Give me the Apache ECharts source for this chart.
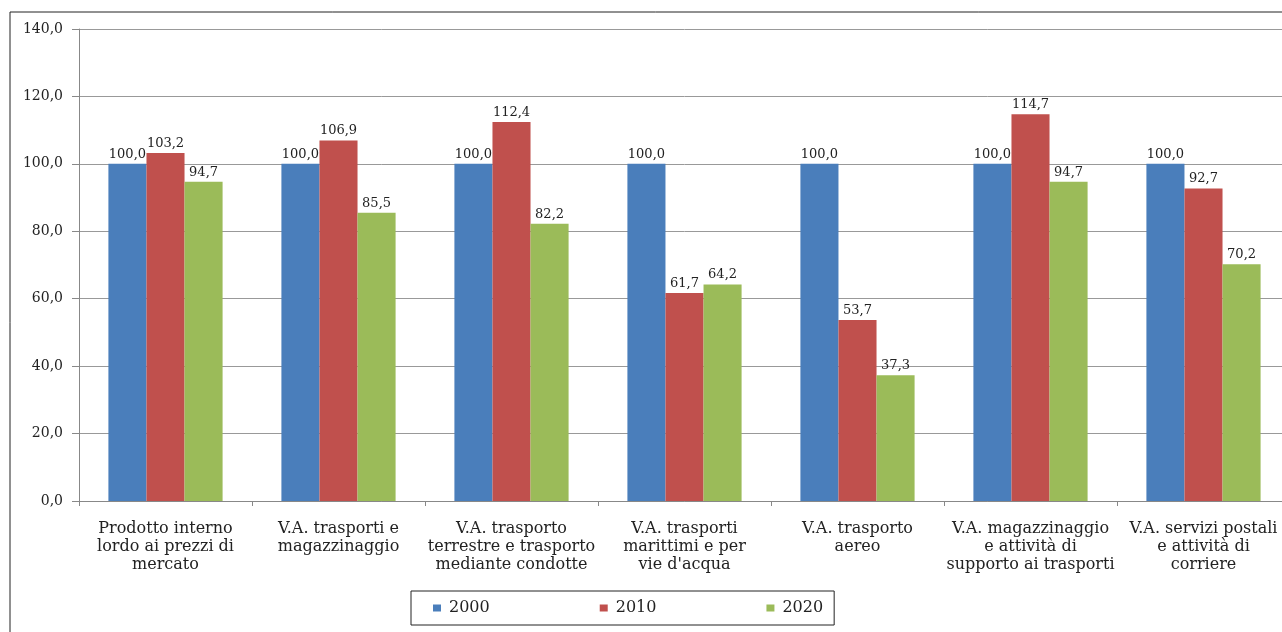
<!DOCTYPE html>
<html>
<head>
    <meta charset="utf-8" />
    <title>Valore aggiunto trasporti</title>
    <script src="https://cdn.jsdelivr.net/npm/echarts@6/dist/echarts.min.js"></script>
    <style>
        body { margin: 0; overflow: hidden; background: #fff; }
        #main { width: 1300px; height: 632px; }
    </style>
</head>
<body>
<div id="main"></div>
<script type="text/javascript">
    // categorie e serie (numeri indice, 2000 = 100)
    var categories = [
        'Prodotto interno\nlordo ai prezzi di\nmercato',
        'V.A. trasporti e\nmagazzinaggio',
        'V.A. trasporto\nterrestre e trasporto\nmediante condotte',
        'V.A. trasporti\nmarittimi e per\nvie d\'acqua',
        'V.A. trasporto\naereo',
        'V.A. magazzinaggio\ne attività di\nsupporto ai trasporti',
        'V.A. servizi postali\ne attività di\ncorriere'
    ];
    var years = ['2000', '2010', '2020'];
    var values2000 = [100.0, 100.0, 100.0, 100.0, 100.0, 100.0, 100.0];
    var values2010 = [103.2, 106.9, 112.4, 61.7, 53.7, 114.7, 92.7];
    var values2020 = [94.7, 85.5, 82.2, 64.2, 37.3, 94.7, 70.2];
    var colors = ['#4a7ebb', '#c0504d', '#9bbb59'];

    var serif = '"DejaVu Serif", "Liberation Serif", serif';

    function fmt(v) {
        return v.toFixed(1).replace('.', ',');
    }

    var chart = echarts.init(document.getElementById('main'));

    function barSeries(name, data, color) {
        return {
            name: name,
            type: 'bar',
            data: data,
            barGap: '0%',
            barCategoryGap: '34%',
            itemStyle: { color: color },
            label: {
                show: true,
                position: 'top',
                distance: 3,
                color: '#222',
                fontFamily: serif,
                fontSize: 13,
                formatter: function (p) { return fmt(p.value); }
            }
        };
    }

    var option = {
        animation: false,
        color: colors,
        graphic: [{
            type: 'rect',
            shape: { x: 10, y: 12, width: 1400, height: 700 },
            style: { fill: 'none', stroke: '#222', lineWidth: 1 },
            silent: true
        }],
        grid: { left: 79, top: 29, right: 10, bottom: 131 },
        legend: {
            data: years,
            left: 411,
            top: 591,
            padding: [9, 11, 9, 22],
            itemGap: 110,
            itemWidth: 8,
            itemHeight: 7,
            icon: 'rect',
            borderColor: '#222',
            borderWidth: 1,
            textStyle: { fontFamily: serif, fontSize: 16, color: '#222', padding: [0, 0, 0, 3] }
        },
        xAxis: {
            type: 'category',
            data: categories,
            axisLine: { lineStyle: { color: '#888' } },
            axisTick: { show: true, length: 5, lineStyle: { color: '#888' } },
            axisLabel: {
                interval: 0,
                margin: 19,
                fontFamily: serif,
                fontSize: 16,
                lineHeight: 18,
                color: '#222'
            }
        },
        yAxis: {
            type: 'value',
            min: 0,
            max: 140,
            interval: 20,
            axisLine: { show: true, lineStyle: { color: '#888' } },
            axisTick: { show: true, length: 7, lineStyle: { color: '#888' } },
            splitLine: { lineStyle: { color: '#999' } },
            axisLabel: {
                margin: 16,
                fontFamily: serif,
                fontSize: 14,
                color: '#222',
                formatter: function (v) { return fmt(v); }
            }
        },
        series: [
            barSeries(years[0], values2000, colors[0]),
            barSeries(years[1], values2010, colors[1]),
            barSeries(years[2], values2020, colors[2])
        ]
    };

    chart.setOption(option);
</script>
</body>
</html>
